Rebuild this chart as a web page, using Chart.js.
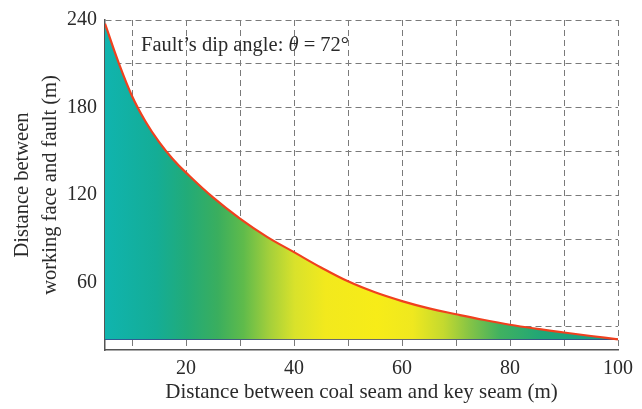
<!DOCTYPE html>
<html>
<head>
<meta charset="utf-8">
<script src="https://cdn.jsdelivr.net/npm/chart.js@4.4.1/dist/chart.umd.min.js"></script>
<style>
  html, body { margin: 0; padding: 0; background: #ffffff; }
  #wrap { width: 642px; height: 409px; position: relative; }
</style>
</head>
<body>
<div id="wrap"><canvas id="c" width="642" height="409"></canvas></div>
<script>
// Data
const coalToKeySeam = [5, 7.5, 10, 12.5, 15, 17.5, 20, 25, 30, 35, 40, 45, 50, 55, 60, 65, 70, 75, 80, 85, 90, 95, 100];
const faceToFault   = [237.5, 211, 188, 170.5, 156.5, 145, 135.5, 118.5, 104, 91.5, 81, 70.5, 61, 53.5, 47.5, 42.5, 38.5, 34.7, 31.3, 28.5, 26, 23.6, 21.3];
const baseLevel = 21.3;
const yTickLabels = [60, 120, 180, 240];
const xTickLabels = [20, 40, 60, 80, 100];
const xTitle = "Distance between coal seam and key seam (m)";
const yTitle = ["Distance between", "working face and fault (m)"];
const noteParts = ["Fault\u2019s dip angle: ", "\u03B8", " = 72\u00B0"];

const FONT = "'Liberation Serif', 'Times New Roman', serif";
const TEXT = "#2a2a2a";

function fillGradient(context) {
  const chart = context.chart;
  const area = chart.chartArea;
  if (!area) return "#f5ea18";
  const xs = chart.scales.x;
  const x0 = xs.getPixelForValue(5), x1 = xs.getPixelForValue(100);
  const g = chart.ctx.createLinearGradient(x0, 0, x1, 0);
  const stops = [
    [0.00, "#10b4ae"], [0.10, "#14ad96"], [0.16, "#22ab78"], [0.22, "#3aae5e"],
    [0.27, "#5fbb4b"], [0.32, "#a3cf3b"], [0.37, "#d9e22b"], [0.43, "#f2e91d"],
    [0.53, "#f7ec18"], [0.60, "#efe81f"], [0.66, "#c4d92f"], [0.71, "#86c445"],
    [0.77, "#40b160"], [0.85, "#20a676"], [1.00, "#169f88"]
  ];
  stops.forEach(s => g.addColorStop(s[0], s[1]));
  return g;
}

const notePlugin = {
  id: "note",
  afterDatasetsDraw(chart) {
    const ctx = chart.ctx;
    const a = chart.chartArea;
    ctx.save();
    ctx.fillStyle = TEXT;
    ctx.textBaseline = "alphabetic";
    ctx.textAlign = "left";
    let x = a.left + 36, y = a.top + 31;
    ctx.font = "20.5px " + FONT;
    ctx.fillText(noteParts[0], x, y);
    x += ctx.measureText(noteParts[0]).width;
    ctx.font = "italic 20.5px " + FONT;
    ctx.fillText(noteParts[1], x, y);
    x += ctx.measureText(noteParts[1]).width;
    ctx.font = "20.5px " + FONT;
    ctx.fillText(noteParts[2], x, y);
    ctx.restore();
  }
};

const points = coalToKeySeam.map((x, i) => ({x: x, y: faceToFault[i]}));
const basePoints = [{x: coalToKeySeam[0], y: baseLevel}, {x: coalToKeySeam[coalToKeySeam.length - 1], y: baseLevel}];

new Chart(document.getElementById("c"), {
  type: "line",
  data: {
    datasets: [
      {
        data: basePoints,
        borderColor: "#3b3f8c",
        borderWidth: 1.5,
        pointRadius: 0,
        fill: false,
        order: 2
      },
      {
        data: points,
        borderColor: "#f0401e",
        borderWidth: 2.2,
        pointRadius: 0,
        tension: 0.4,
        fill: {value: baseLevel},
        backgroundColor: fillGradient,
        order: 1
      }
    ]
  },
  options: {
    responsive: false,
    animation: false,
    devicePixelRatio: 1,
    layout: { padding: { left: 0, top: 16, right: 24, bottom: 0 } },
    plugins: { legend: { display: false }, tooltip: { enabled: false } },
    scales: {
      x: {
        type: "linear",
        min: 5, max: 100,
        afterFit(scale) { scale.height = 59; },
        ticks: {
          stepSize: 10,
          padding: 7,
          color: TEXT,
          font: { family: FONT, size: 20 },
          maxRotation: 0,
          autoSkip: false,
          callback: v => xTickLabels.includes(v) ? String(v) : ""
        },
        grid: {
          color: ctx => (ctx.tick && ctx.tick.value === 5) ? "rgba(0,0,0,0)" : "#7a7a7a",
          lineWidth: 1,
          drawTicks: false
        },
        border: { display: true, color: "#555555", width: 1.5, dash: [6, 4] },
        title: {
          display: true, text: xTitle, color: TEXT,
          font: { family: FONT, size: 21, lineHeight: 1.2 },
          padding: { top: 0, bottom: 4 }
        }
      },
      y: {
        type: "linear",
        min: 14, max: 240,
        afterFit(scale) { scale.width = 105; },
        ticks: {
          stepSize: 30,
          padding: 8,
          color: TEXT,
          font: { family: FONT, size: 20 },
          autoSkip: false,
          callback: v => yTickLabels.includes(v) ? String(v) : ""
        },
        grid: {
          color: ctx => (ctx.tick && ctx.tick.value === 14) ? "rgba(0,0,0,0)" : "#7a7a7a",
          lineWidth: 1,
          drawTicks: false
        },
        border: { display: true, color: "#555555", width: 1.5, dash: [6, 4] },
        title: {
          display: true, text: yTitle, color: TEXT,
          font: { family: FONT, size: 20.5, lineHeight: "28px" },
          padding: { top: 9, bottom: 0 }
        }
      }
    }
  },
  plugins: [notePlugin]
});
</script>
</body>
</html>
